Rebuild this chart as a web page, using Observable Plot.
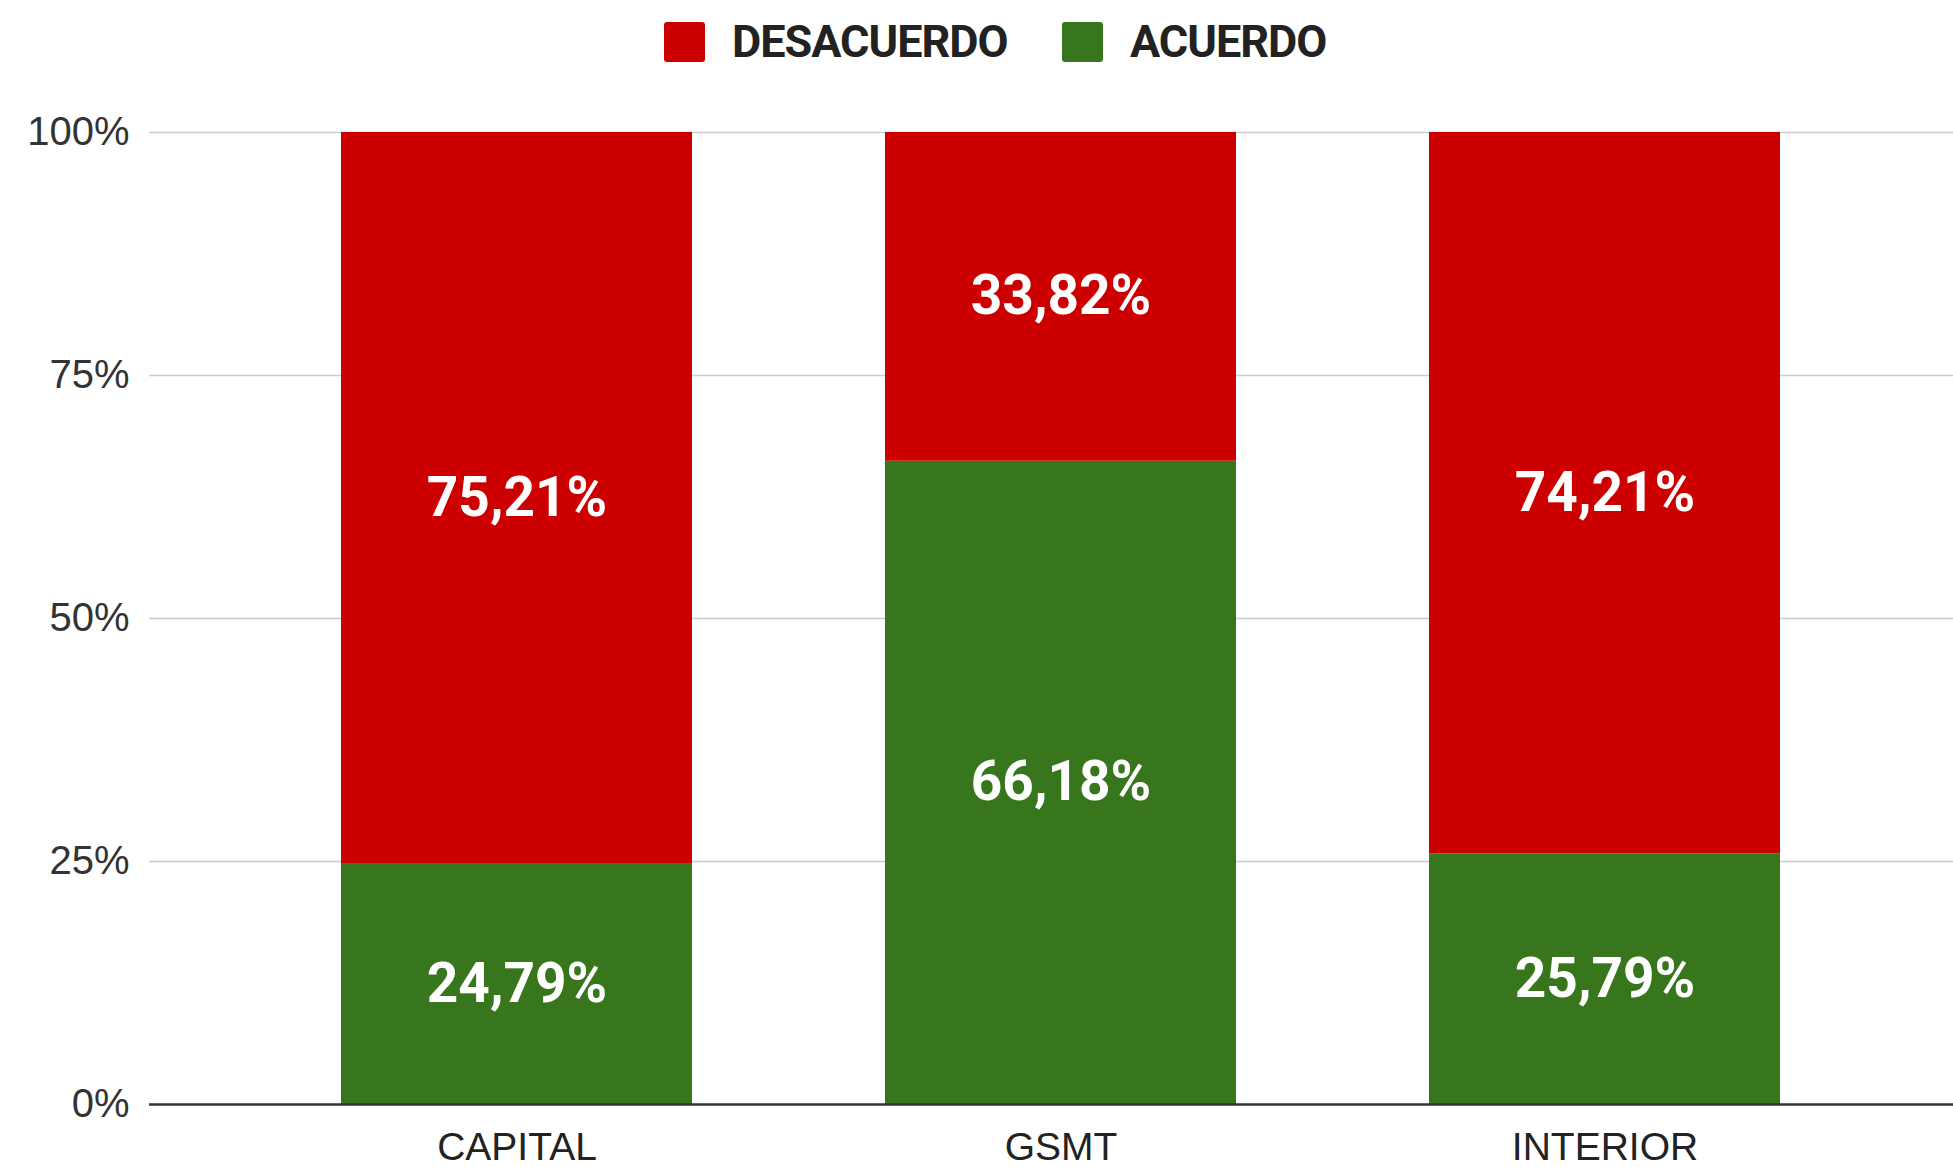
<!DOCTYPE html>
<html>
<head>
<meta charset="utf-8">
<script src="https://cdn.jsdelivr.net/npm/d3@7"></script>
<script src="https://cdn.jsdelivr.net/npm/@observablehq/plot@0.6"></script>
<style>
  html, body { margin: 0; padding: 0; background: #fff; }
  #legend { position: relative; height: 90px; width: 1953px; }
  .item { position: absolute; top: 22px; display: flex; align-items: center; height: 40px; }
  .sw { width: 41px; height: 40px; border-radius: 3px; margin-right: 27px; }
  .lab { font-family: Roboto, "Liberation Sans", sans-serif; font-weight: 700; font-size: 45px; color: #222; letter-spacing: -1px; line-height: 40px; }
</style>
</head>
<body>
<div id="legend"></div>
<div id="chart"></div>
<script>
const categories = ["CAPITAL", "GSMT", "INTERIOR"];
const series = ["ACUERDO", "DESACUERDO"];
const acuerdo = [24.79, 66.18, 25.79];
const desacuerdo = [75.21, 33.82, 74.21];
const yTicks = [0, 25, 50, 75, 100];
const colors = { ACUERDO: "#38761d", DESACUERDO: "#cc0000" };

const rows = [];
categories.forEach((c, i) => {
  rows.push({ cat: c, serie: "ACUERDO", v: acuerdo[i] });
  rows.push({ cat: c, serie: "DESACUERDO", v: desacuerdo[i] });
});

// legend (HTML, above the SVG)
const legend = document.getElementById("legend");
const legendItems = [
  { name: "DESACUERDO", left: 664 },
  { name: "ACUERDO", left: 1062 }
];
legendItems.forEach(it => {
  const d = document.createElement("div");
  d.className = "item";
  d.style.left = it.left + "px";
  const s = document.createElement("div");
  s.className = "sw";
  s.style.background = colors[it.name];
  const t = document.createElement("span");
  t.className = "lab";
  t.textContent = it.name;
  d.appendChild(s); d.appendChild(t);
  legend.appendChild(d);
});

const fmt = v => v.toFixed(2).replace(".", ",") + "%";

const chart = Plot.plot({
  width: 1953,
  height: 1077,
  marginLeft: 149,
  marginRight: 0,
  marginTop: 42,
  marginBottom: 63,
  style: { fontFamily: "'Liberation Sans', Arial, sans-serif", background: "#fff", color: "#222" },
  x: { domain: categories, range: [341, 1780], paddingInner: 0.355, paddingOuter: 0, label: null },
  y: { domain: [0, 100], label: null },
  color: { domain: series, range: series.map(s => colors[s]) },
  marks: [
    Plot.ruleY(yTicks.filter(t => t > 0), { stroke: "#cccccc", strokeWidth: 1.5 }),
    Plot.barY(rows, { x: "cat", y: "v", fill: "serie", order: null }),
    Plot.text(rows, Plot.stackY({ x: "cat", y: "v", z: "serie", order: null, text: d => fmt(d.v), fill: "#ffffff", fontSize: 55, fontWeight: 700, fontFamily: "Roboto, 'Liberation Sans', sans-serif" })),
    Plot.ruleY([0], { stroke: "#333333", strokeWidth: 2.5 }),
    Plot.axisY({ ticks: yTicks, tickFormat: d => d + "%", tickSize: 0, tickPadding: 20, fontSize: 40, fill: "#333", label: null }),
    Plot.axisX({ tickSize: 0, tickPadding: 28, fontSize: 39, fill: "#222", label: null })
  ]
});
document.getElementById("chart").appendChild(chart);
</script>
</body>
</html>
